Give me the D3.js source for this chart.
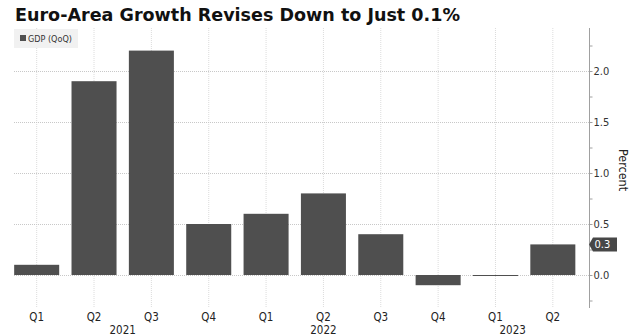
<!DOCTYPE html>
<html>
<head>
<meta charset="utf-8">
<script src="https://cdn.jsdelivr.net/npm/d3@7"></script>
<style>
  html, body { margin: 0; padding: 0; background: #fff; }
  svg { display: block; }
</style>
</head>
<body>
<div id="chart"></div>
<script>
// ---- data ----
const quarters = ["Q1", "Q2", "Q3", "Q4", "Q1", "Q2", "Q3", "Q4", "Q1", "Q2"];
const quarterYears = ["2021", "2021", "2021", "2021", "2022", "2022", "2022", "2022", "2023", "2023"];
const gdpQoQ = [0.1, 1.9, 2.2, 0.5, 0.6, 0.8, 0.4, -0.1, 0.0, 0.3];
const yearLabels = ["2021", "2022", "2023"];
const yearLabelIndex = [1.5, 5, 8.3];
const yTickValues = [0.0, 0.5, 1.0, 1.5, 2.0];
const yMinorTicks = [-0.25, 0, 0.25, 0.5, 0.75, 1.0, 1.25, 1.5, 1.75, 2.0, 2.25];
const titleText = "Euro-Area Growth Revises Down to Just 0.1%";
const legendText = "GDP (QoQ)";
const axisTitle = "Percent";
const lastValueLabel = "0.3";

// ---- layout ----
const W = 644, H = 336;
const plotTop = 28, plotBottom = 308, axisX = 589;
const font = "'DejaVu Sans Condensed', 'DejaVu Sans', sans-serif";
const barColor = "#4f4f4f";

const svg = d3.select("#chart").append("svg").attr("width", W).attr("height", H);

const ids = quarters.map((q, i) => i);
const x = d3.scaleBand().domain(ids).range([8, 581.5]).paddingInner(0.215).paddingOuter(0.1075);
const y = d3.scaleLinear().domain([-0.3235, 2.4216]).range([plotBottom, plotTop]);
const xc = i => x(i) + x.bandwidth() / 2;
const xIdx = d3.scaleLinear().domain([0, 1]).range([xc(0), xc(1)]);

// title
svg.append("text")
  .attr("x", 15).attr("y", 21)
  .attr("font-family", "'DejaVu Sans', sans-serif")
  .attr("font-weight", "bold")
  .attr("font-size", 16.8)
  .attr("textLength", 445).attr("lengthAdjust", "spacingAndGlyphs")
  .attr("fill", "#111")
  .text(titleText);

// vertical gridlines
svg.append("g").selectAll("line").data(ids).join("line")
  .attr("x1", d => xc(d)).attr("x2", d => xc(d))
  .attr("y1", plotTop).attr("y2", plotBottom)
  .attr("stroke", "#dcdcdc").attr("stroke-width", 1)
  .attr("stroke-dasharray", "1,1");

// horizontal gridlines
svg.append("g").selectAll("line").data(yTickValues).join("line")
  .attr("x1", 14).attr("x2", axisX)
  .attr("y1", d => Math.round(y(d)) + 0.5).attr("y2", d => Math.round(y(d)) + 0.5)
  .attr("stroke", "#c8c8c8").attr("stroke-width", 1)
  .attr("stroke-dasharray", "1,1");

// legend
svg.append("rect").attr("x", 14).attr("y", 29).attr("width", 64).attr("height", 19).attr("fill", "#f1f1f1");
svg.append("rect").attr("x", 20).attr("y", 35).attr("width", 6).attr("height", 6).attr("fill", barColor);
svg.append("text").attr("x", 28).attr("y", 41.5)
  .attr("font-family", font).attr("font-size", 9).attr("fill", "#333")
  .text(legendText);

// bars
svg.append("g").selectAll("rect").data(gdpQoQ).join("rect")
  .attr("x", (d, i) => x(i))
  .attr("width", x.bandwidth())
  .attr("y", d => Math.min(y(d), y(0)))
  .attr("height", d => Math.max(1, Math.abs(y(d) - y(0))))
  .attr("fill", barColor);

// right axis
const axis = d3.axisRight(y).tickValues(yMinorTicks).tickSize(3).tickFormat("");
const gAxis = svg.append("g").attr("transform", `translate(${axisX},0)`).call(axis);
gAxis.select(".domain").attr("stroke", "#a0a0a0").attr("d", `M0.5,${plotTop}V${plotBottom}`);
gAxis.selectAll(".tick line").attr("stroke", "#a0a0a0").attr("transform", "translate(0.5,0)");
svg.append("g").selectAll("text").data(yTickValues).join("text")
  .attr("x", axisX + 4.5).attr("y", d => y(d) + 4)
  .attr("font-family", font).attr("font-size", 11).attr("fill", "#333")
  .text(d => d3.format(".1f")(d));

// last value callout
const lastVal = gdpQoQ[gdpQoQ.length - 1];
const cy = y(lastVal);
svg.append("path")
  .attr("d", `M${axisX},${cy} L${axisX + 4},${cy - 7} H${axisX + 28} V${cy + 7} H${axisX + 4} Z`)
  .attr("fill", "#474747");
svg.append("text").attr("x", axisX + 5.5).attr("y", cy + 4)
  .attr("font-family", font).attr("font-size", 11).attr("fill", "#fff")
  .text(lastValueLabel);

// axis title
svg.append("text")
  .attr("transform", `translate(619,${170}) rotate(90)`)
  .attr("text-anchor", "middle")
  .attr("font-family", font).attr("font-size", 12.5).attr("fill", "#222")
  .text(axisTitle);

// x labels
svg.append("g").selectAll("text").data(quarters).join("text")
  .attr("x", (d, i) => xc(i)).attr("y", 321)
  .attr("text-anchor", "middle")
  .attr("font-family", font).attr("font-size", 11.5).attr("fill", "#222")
  .text(d => d);
svg.append("g").selectAll("text").data(yearLabels).join("text")
  .attr("x", (d, i) => xIdx(yearLabelIndex[i])).attr("y", 333.5)
  .attr("text-anchor", "middle")
  .attr("font-family", font).attr("font-size", 11.5).attr("fill", "#222")
  .text(d => d);
</script>
</body>
</html>
